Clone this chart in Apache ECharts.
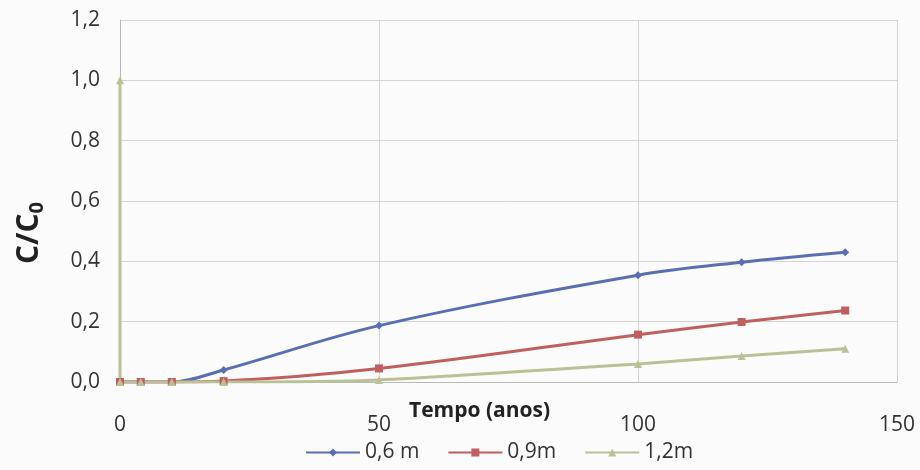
<!DOCTYPE html>
<html>
<head>
<meta charset="utf-8">
<script src="https://cdn.jsdelivr.net/npm/echarts@6/dist/echarts.min.js"></script>
<style>
  html, body { margin: 0; padding: 0; background: #fbfbfb; }
  #chart { width: 920px; height: 470px; }
</style>
</head>
<body>
<div id="chart"></div>
<script>
// Time (years) and relative concentration C/C0 for each depth
const tempo06 = [0, 4, 10, 20, 50, 100, 120, 140];
const conc06  = [0, 0, 0, 0.04, 0.187, 0.354, 0.397, 0.43];

const tempo09 = [0, 4, 10, 20, 50, 100, 120, 140];
const conc09  = [0, 0, 0, 0.003, 0.045, 0.157, 0.199, 0.237];

const tempo12 = [0, 0, 4, 10, 20, 50, 100, 120, 140];
const conc12  = [1.0, 0, 0, 0, 0.0, 0.007, 0.06, 0.086, 0.11];

const seriesNames = ['0,6 m', '0,9m', '1,2m'];
const xTicks = { min: 0, max: 150, step: 50 };
const yTicks = { min: 0, max: 1.2, step: 0.2 };

const pair = (xs, ys) => xs.map((x, i) => [x, ys[i]]);
const fmt = v => v.toFixed(1).replace('.', ',');

const font = "'Open Sans', 'Liberation Sans', sans-serif";
const chart = echarts.init(document.getElementById('chart'));

chart.setOption({
  backgroundColor: '#fbfbfb',
  animation: false,
  grid: { left: 120, right: 23, top: 20, bottom: 88 },
  xAxis: {
    type: 'value', min: xTicks.min, max: xTicks.max, interval: xTicks.step,
    axisLine: { show: true, lineStyle: { color: '#b8b8b8', width: 1 } },
    axisTick: { show: false },
    axisLabel: { color: '#333', fontSize: 21, fontFamily: font, margin: 33 },
    splitLine: { show: true, lineStyle: { color: '#d3d3d3', width: 1 } }
  },
  yAxis: {
    type: 'value', min: yTicks.min, max: yTicks.max, interval: yTicks.step,
    axisLine: { show: true, lineStyle: { color: '#b8b8b8', width: 1 } },
    axisTick: { show: false },
    axisLabel: { color: '#333', fontSize: 21, fontFamily: font, margin: 20, formatter: fmt },
    splitLine: { show: true, lineStyle: { color: '#d3d3d3', width: 1 } }
  },
  legend: {
    bottom: 2, left: 300, itemWidth: 54, itemHeight: 10, itemGap: 28,
    textStyle: { color: '#333', fontSize: 21, fontFamily: font },
    data: seriesNames
  },
  graphic: [
    {
      type: 'text', left: 409, top: 401,
      style: { text: 'Tempo (anos)', font: "bold 21px " + font, fill: '#222' }
    },
    {
      type: 'text', x: 12, y: 264, rotation: Math.PI / 2,
      style: {
        text: '{a|C/C}{s|0}',
        rich: {
          a: { font: "bold 30px " + font, fill: '#222' },
          s: { font: "bold 20px " + font, fill: '#222', padding: [15, 0, 0, 0] }
        }
      }
    }
  ],
  series: [
    {
      name: seriesNames[0], type: 'line', smooth: 0.35,
      data: pair(tempo06, conc06),
      symbol: 'diamond', symbolSize: 8,
      lineStyle: { color: '#5a6fb3', width: 3 },
      itemStyle: { color: '#5a6fb3' }
    },
    {
      name: seriesNames[1], type: 'line', smooth: 0.35,
      data: pair(tempo09, conc09),
      symbol: 'rect', symbolSize: 8,
      lineStyle: { color: '#c0605e', width: 3 },
      itemStyle: { color: '#c0605e' }
    },
    {
      name: seriesNames[2], type: 'line', smooth: 0.2,
      data: pair(tempo12, conc12),
      symbol: 'triangle', symbolSize: 8,
      lineStyle: { color: '#bcc096', width: 3 },
      itemStyle: { color: '#bcc096' }
    }
  ]
});
</script>
</body>
</html>
